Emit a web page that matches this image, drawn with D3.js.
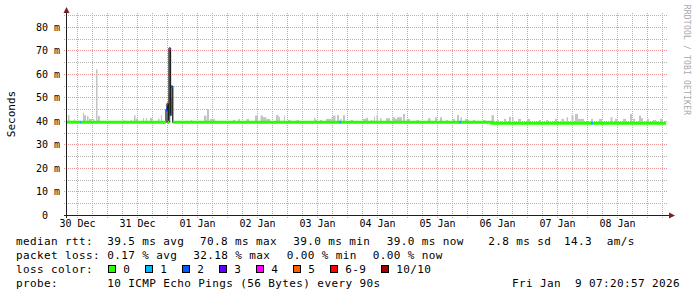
<!DOCTYPE html>
<html><head><meta charset="utf-8">
<script src="https://cdn.jsdelivr.net/npm/d3@7"></script>
<style>
html,body{margin:0;padding:0;background:#fff;}
svg{display:block;}
text{font-family:"DejaVu Sans Mono",monospace;fill:#000;}
</style></head><body>
<svg id="c" width="697" height="297"></svg>
<script>
// ---- data ----
const startUTC = Date.UTC(2025, 11, 30, 7, 48, 0);
const spanHours = 240;
const lastHour = 239.6;
const dayLabels = ["30 Dec","31 Dec","01 Jan","02 Jan","03 Jan","04 Jan","05 Jan","06 Jan","07 Jan","08 Jan"];
const yTicks = [0,10,20,30,40,50,60,70,80];
const yTickLabels = ["0  ","10 m","20 m","30 m","40 m","50 m","60 m","70 m","80 m"];
const yMax = 85.1;

// median rtt (ms) change points: hour from start, value, loss count
const medianHour = [0, 5.2, 5.6, 39.6, 40.0, 40.4, 40.8, 41.4, 41.6, 42.3, 108.8, 109.6, 156.8, 157.6, 170.0, 209.6, 210.4];
const medianMs   = [39.5, 39.5, 39.5, 44.7, 47.2, 39.5, 70.8, 42.5, 54.6, 39.5, 39.5, 39.5, 39.5, 39.5, 39.0, 39.0, 39.0];
const medianLoss = [0, 1, 0, 2, 2, 0, 4, 2, 2, 0, 1, 0, 1, 0, 0, 1, 0];

// smoke (max ping) samples
const smokeFrom = [0.4,2.8,6.4,6.8,8.0,8.8,10.4,11.6,12.4,22.6,25.6,26.8,27.4,30.4,31.6,33.2,36.4,37.6,40.6,41.4,49.6,54.8,56.0,57.2,66.4,68.6,71.8,75.2,77.4,78.4,79.8,83.6,84.6,86.8,88.4,91.8,98.8,99.4,101.2,103.6,105.8,106.4,108.0,109.2,110.4,113.4,118.4,119.6,121.6,122.8,123.8,125.2,127.6,130.2,131.2,132.0,134.4,135.8,139.8,144.4,147.2,149.2,151.8,154.2,156.0,157.4,159.2,160.0,162.4,166.4,169.8,172.0,174.8,176.8,178.0,180.4,184.0,188.8,191.6,195.2,197.8,199.8,201.8,203.2,204.4,209.6,212.8,217.4,219.2,222.4,225.2,226.4,228.8,229.6,232.0,234.4,237.2];
const smokeTo = [1.0,3.2,6.8,7.6,8.6,10.0,11.0,12.2,13.2,23.0,26.0,27.4,28.4,30.8,32.0,34.2,37.0,38.0,41.4,42.2,50.0,55.8,56.8,59.2,67.2,69.2,72.8,76.4,78.4,79.8,81.2,84.6,85.2,87.2,89.4,92.8,99.4,100.0,102.0,105.8,106.4,107.4,108.8,109.8,111.2,114.4,119.6,120.4,122.2,123.2,124.4,125.8,129.2,131.2,132.0,134.0,135.2,137.2,140.8,145.4,148.0,150.0,152.4,155.2,156.8,158.0,160.0,160.8,163.2,167.4,170.8,172.8,175.6,177.6,178.6,181.6,185.2,189.6,192.4,196.0,198.8,200.4,202.6,204.4,206.8,210.4,214.0,218.2,220.2,223.6,226.0,227.2,229.6,230.4,232.8,235.6,238.4];
const smokeMax = [42.5,40.8,43.5,42.5,42.1,40.9,40.8,62.0,42.1,40.4,40.4,42.5,41.0,41.3,41.3,41.3,41.0,42.5,51.5,50.0,40.4,42.3,45.1,40.9,40.4,40.9,40.9,42.3,42.3,41.6,40.9,42.5,41.8,42.3,40.4,40.4,41.4,40.4,40.4,40.9,41.6,42.3,42.5,40.9,42.5,40.4,40.9,41.4,40.4,41.8,42.5,41.2,41.2,41.6,40.9,41.6,43.0,40.9,40.4,41.2,41.6,41.6,40.4,40.9,42.5,41.6,40.9,40.4,40.4,40.4,42.5,40.4,40.9,41.8,41.6,40.9,40.9,40.4,40.4,40.9,40.9,41.6,42.5,43.0,40.9,40.9,40.9,41.6,40.9,40.9,43.0,40.9,42.3,41.2,40.9,40.4,40.9];

const lossLabels = ["0","1","2","3","4","5","6-9","10/10"];
const lossColors = ["#26ff00","#00b8ff","#0059ff","#5e00ff","#ff00ff","#ff5e00","#ff0000","#a00000"];
const rttStats = ["39.5 ms avg","70.8 ms max","39.0 ms min","39.0 ms now","2.8 ms sd","14.3","am/s"];
const lossStats = ["0.17 % avg","32.18 % max","0.00 % min","0.00 % now"];
const probeText = "10 ICMP Echo Pings (56 Bytes) every 90s";
const stampText = "Fri Jan  9 07:20:57 2026";
const yTitle = "Seconds";
const watermark = "RRDTOOL / TOBI OETIKER";

// ---- drawing ----
const svg = d3.select("#c");
const H = h => new Date(startUTC + h * 3600e3);
const x = d3.scaleUtc().domain([H(0), H(spanHours)]).range([67, 667]);
const y = d3.scaleLinear().domain([0, yMax]).range([215, 15]);
const px = v => Math.floor(v) + 0.5;
const py = v => Math.round(v) + 0.5;

const gridMinor = "#b4b4b4", gridMajor = "#eb9595";

// vertical grid
const sixH = d3.utcHour.every(6).range(H(0), H(spanHours));
sixH.forEach(t => {
  const major = t.getUTCHours() === 0;
  svg.append("line").attr("x1", px(x(t))).attr("x2", px(x(t)))
    .attr("y1", 13).attr("y2", 218)
    .attr("stroke", major ? gridMajor : gridMinor).attr("stroke-width", 1)
    .attr("stroke-dasharray", "1,1");
});
// horizontal grid
d3.range(5, 86, 5).forEach(v => {
  const major = v % 10 === 0;
  svg.append("line").attr("x1", 64).attr("x2", 668)
    .attr("y1", py(y(v))).attr("y2", py(y(v)))
    .attr("stroke", major ? gridMajor : gridMinor).attr("stroke-width", 1)
    .attr("stroke-dasharray", "1,1");
});

// median lookup
const medPts = medianHour.map((h, i) => ({t: H(h), h, v: medianMs[i], loss: medianLoss[i]}));
const medAt = h => {
  const i = d3.bisectRight(medianHour, h) - 1;
  return medianMs[Math.max(0, i)];
};

// smoke
const smoke = smokeFrom.map((f, i) => ({f, to: smokeTo[i], top: smokeMax[i]}));
svg.append("g").selectAll("rect").data(smoke).join("rect")
  .attr("x", d => x(H(d.f)))
  .attr("width", d => x(H(d.to)) - x(H(d.f)))
  .attr("y", d => y(d.top))
  .attr("height", d => Math.max(0, y(Math.min(medAt(d.f), d.top)) - y(d.top)))
  .attr("fill", "#c4c4c4");

// median dark line
const stepLine = d3.line().x(d => x(d.t)).y(d => y(d.v)).curve(d3.curveStepAfter);
const endT = H(lastHour);
svg.append("path")
  .attr("d", stepLine([...medPts, {t: endT, v: medPts[medPts.length - 1].v}]))
  .attr("fill", "none").attr("stroke", "#202020").attr("stroke-width", 1.3);

// coloured median by loss: horizontal pieces, joined only inside loss-0 stretches
const lossIdx = l => l <= 5 ? l : (l < 10 ? 6 : 7);
const runs = [];
medPts.forEach(p => {
  if (!runs.length || runs[runs.length - 1].loss !== p.loss) runs.push({loss: p.loss, pts: []});
  runs[runs.length - 1].pts.push(p);
});
runs.forEach((r, k) => {
  const nextT = k < runs.length - 1 ? runs[k + 1].pts[0].t : endT;
  const col = lossColors[lossIdx(r.loss)];
  if (r.loss === 0) {
    const last = r.pts[r.pts.length - 1];
    svg.append("path")
      .attr("d", stepLine([...r.pts, {t: nextT, v: last.v}]))
      .attr("fill", "none").attr("stroke", col)
      .attr("stroke-width", 3).attr("stroke-linecap", "butt");
  } else {
    r.pts.forEach((p, j) => {
      const t2 = j < r.pts.length - 1 ? r.pts[j + 1].t : nextT;
      svg.append("line").attr("x1", x(p.t)).attr("x2", x(t2))
        .attr("y1", y(p.v)).attr("y2", y(p.v))
        .attr("stroke", col).attr("stroke-width", 3);
    });
  }
});

// axes
const axisCol = "#1f1f1f", arrowCol = "#801f1f";
svg.append("line").attr("x1", 64).attr("x2", 671).attr("y1", 215.5).attr("y2", 215.5)
  .attr("stroke", axisCol).attr("stroke-width", 1);
svg.append("line").attr("x1", 66.5).attr("x2", 66.5).attr("y1", 218).attr("y2", 11)
  .attr("stroke", axisCol).attr("stroke-width", 1);
svg.append("path").attr("d", "M63.5,13 L69.5,13 L66.5,7 Z").attr("fill", arrowCol);
svg.append("path").attr("d", "M669,212.5 L669,218.5 L675,215.5 Z").attr("fill", arrowCol);

// y tick labels
svg.append("g").selectAll("text").data(yTicks).join("text")
  .attr("x", 60).attr("y", d => py(y(d)) + 3.5)
  .attr("text-anchor", "end").attr("font-size", "10px")
  .attr("xml:space", "preserve").style("white-space", "pre")
  .text((d, i) => yTickLabels[i]);

// x labels at noon
svg.append("g").selectAll("text").data(dayLabels).join("text")
  .attr("x", (d, i) => x(new Date(Date.UTC(2025, 11, 30 + i, 12))))
  .attr("y", 227).attr("text-anchor", "middle").attr("font-size", "10px")
  .text(d => d);

// y title
svg.append("text").attr("transform", "translate(15,114) rotate(-90)")
  .attr("text-anchor", "middle").attr("font-size", "11px").text(yTitle);

// watermark
svg.append("text").attr("transform", "translate(684,60) rotate(90)")
  .attr("text-anchor", "middle").attr("font-size", "8px")
  .attr("letter-spacing", "0.2px").style("fill", "#a8a8a8").text(watermark);

// legend
const L = svg.append("g").attr("font-size", "11px").attr("letter-spacing", "0.38px");
const put = (tx, xx, yy, anchor) => L.append("text").attr("x", xx).attr("y", yy)
  .attr("text-anchor", anchor || "start").attr("xml:space", "preserve")
  .style("white-space", "pre").text(tx);
put("median rtt:", 16, 245);
[107.3, 200, 293.3, 386.7, 488.3, 564, 606.7].forEach((xx, i) => put(rttStats[i], xx, 245));
put("packet loss:", 16, 259);
[107.3, 193.3, 286.7, 372.7].forEach((xx, i) => put(lossStats[i], xx, 259));
put("loss color:", 16, 273);
[108.5, 145.5, 182.5, 219.5, 256.5, 293.5, 330.5, 381.5].forEach((xx, i) => {
  L.append("rect").attr("x", xx).attr("y", 265.5).attr("width", 7).attr("height", 7)
    .attr("fill", lossColors[i]).attr("stroke", "#000").attr("stroke-width", 1);
  put(lossLabels[i], xx + 14.8, 273);
});
put("probe:", 16, 287);
put(probeText, 107.3, 287);
put(stampText, 680, 287, "end");
</script>
</body></html>
